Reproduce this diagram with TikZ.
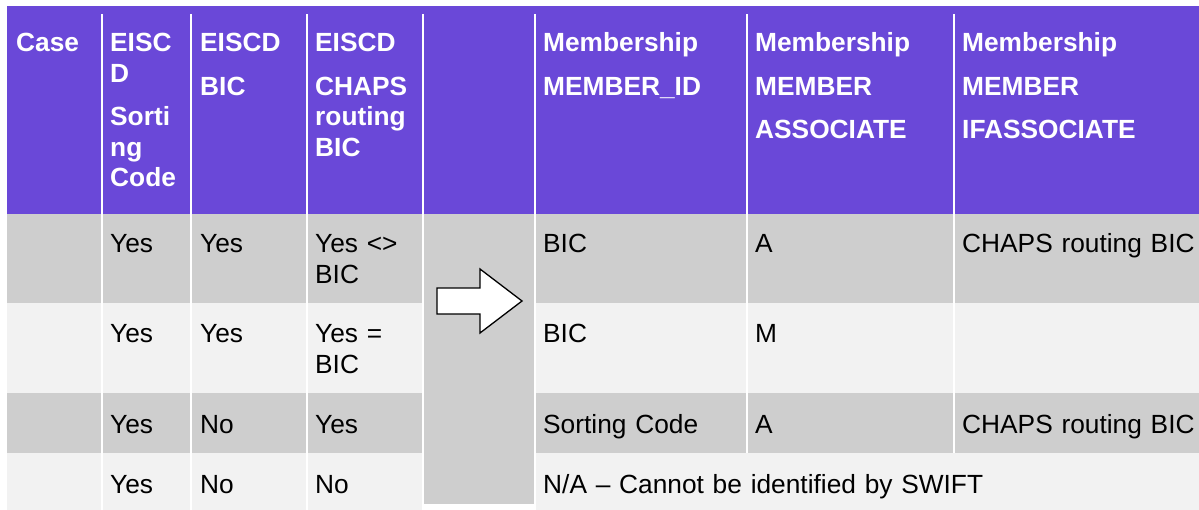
\documentclass[tikz,border=0pt]{standalone}
\usepackage{fontspec}
\setmainfont{Liberation Sans}
\definecolor{hdrpurple}{RGB}{106,72,216}
\definecolor{rowdark}{RGB}{206,206,206}
\definecolor{rowlight}{RGB}{242,242,242}
\begin{document}
\begin{tikzpicture}[x=1pt,y=-1pt,
  cell/.style={anchor=base west, inner sep=0pt, text width=700pt, align=left,
    font=\fontsize{26.3}{30.5}\selectfont},
  headcell/.style={cell, text=white, font=\fontsize{26.3}{30.5}\selectfont\bfseries},
  sep/.style={white, line width=2pt},
  blockarrow/.style={draw=black, fill=white, line width=1.3pt, line join=miter}]
\useasboundingbox (0,0) rectangle (1199,510);
\clip (0,0) rectangle (1199,510);

% header band and row bands
\fill[hdrpurple] (7,6) rectangle (1199,214);
\fill[rowdark]  (7,214) rectangle (1199,303);
\fill[rowlight] (7,303) rectangle (1199,393);
\fill[rowdark]  (7,393) rectangle (1199,453);
\fill[rowlight] (7,453) rectangle (1199,510);

% transition column
\fill[rowdark] (423,214) rectangle (535,504);
\fill[white]   (423,504) rectangle (535,510);

% column separators
\foreach \x in {102,191,306.5,423,535} \draw[sep] (\x,14) -- (\x,510);
\foreach \x in {747,954} \draw[sep] (\x,14) -- (\x,453);

% header texts
\node[headcell] (hcase) at (16,52) {Case};
\node[headcell] (hsort) at (110,52) {EISC\\D\\[13pt]Sorti\\ng\\Code};
\node[headcell] (hbic)  at (200,52) {EISCD\\[13pt]BIC};
\node[headcell] (hchaps) at (315,52) {EISCD\\[13pt]CHAPS\\routing\\BIC};
\node[headcell] (hmid) at (543,52) {Membership\\[13pt]MEMBER\_ID};
\node[headcell] (hmas) at (755,52) {Membership\\[13pt]MEMBER\\[13pt]ASSOCIATE};
\node[headcell] (hmif) at (962,52) {Membership\\[13pt]MEMBER\\[13pt]IFASSOCIATE};

% row 1
\node[cell] (r1a) at (110,253) {Yes};
\node[cell] (r1b) at (200,253) {Yes};
\node[cell] (r1c) at (315,253) {Yes <>\\BIC};
\node[cell] (r1d) at (543,253) {BIC};
\node[cell] (r1e) at (755,253) {A};
\node[cell] (r1f) at (962,253) {CHAPS routing BIC};

% row 2
\node[cell] (r2a) at (110,343) {Yes};
\node[cell] (r2b) at (200,343) {Yes};
\node[cell] (r2c) at (315,343) {Yes =\\BIC};
\node[cell] (r2d) at (543,343) {BIC};
\node[cell] (r2e) at (755,343) {M};

% row 3
\node[cell] (r3a) at (110,433) {Yes};
\node[cell] (r3b) at (200,433) {No};
\node[cell] (r3c) at (315,433) {Yes};
\node[cell] (r3d) at (543,433) {Sorting Code};
\node[cell] (r3e) at (755,433) {A};
\node[cell] (r3f) at (962,433) {CHAPS routing BIC};

% row 4
\node[cell] (r4a) at (110,493) {Yes};
\node[cell] (r4b) at (200,493) {No};
\node[cell] (r4c) at (315,493) {No};
\node[cell] (r4d) at (543,493) {N/A \textendash{} Cannot be identified by SWIFT};

% block arrow
\draw[blockarrow] (437,288) -- (480,288) -- (480,269) -- (522,301)
  -- (480,333) -- (480,314) -- (437,314) -- cycle;
\end{tikzpicture}
\end{document}
